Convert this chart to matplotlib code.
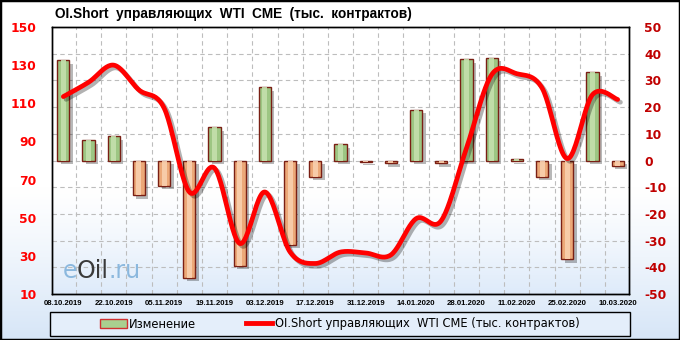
import numpy as np
import matplotlib
matplotlib.use('Agg')
import matplotlib.pyplot as plt
import matplotlib.patheffects as pe
import matplotlib.transforms as mtransforms
from matplotlib.patches import Rectangle, Patch
from matplotlib.lines import Line2D

plt.rcParams['axes.unicode_minus'] = False

# ---------------- data ----------------
dates = ['08.10.2019', '15.10.2019', '22.10.2019', '29.10.2019', '05.11.2019',
         '12.11.2019', '19.11.2019', '26.11.2019', '03.12.2019', '10.12.2019',
         '17.12.2019', '24.12.2019', '31.12.2019', '07.01.2020', '14.01.2020',
         '21.01.2020', '28.01.2020', '04.02.2020', '11.02.2020', '18.02.2020',
         '25.02.2020', '03.03.2020', '10.03.2020']
changes = [37.5, 7.5, 9, -13, -9.5, -44, 12.5, -39.5, 27.5, -31.5, -6, 6,
           -0.5, -1, 19, -1, 38, 38.5, 0.5, -6, -37, 33, -2]
oi_short = [113.5, 121, 130, 117, 107.5, 63.5, 76, 36.5, 63.5, 32, 26, 32,
            31.5, 30.5, 49.5, 48.5, 86.5, 125, 125.5, 118, 81, 114.5, 112]
left_ticks = [10, 30, 50, 70, 90, 110, 130, 150]
right_ticks = list(range(-50, 51, 10))
title = 'OI.Short  управляющих  WTI  CME  (тыс.  контрактов)'
label_bars = 'Изменение'
label_line = 'OI.Short управляющих  WTI CME (тыс. контрактов)'

# ---------------- helpers ----------------
def catmull_rom(x, y, n=24):
    pts = np.column_stack([x, y]).astype(float)
    P = np.vstack([pts[0], pts, pts[-1]])
    out = []
    t = np.linspace(0, 1, n, endpoint=False)[:, None]
    for i in range(len(pts) - 1):
        p0, p1, p2, p3 = P[i], P[i + 1], P[i + 2], P[i + 3]
        seg = 0.5 * ((2 * p1) + (-p0 + p2) * t
                     + (2 * p0 - 5 * p1 + 4 * p2 - p3) * t ** 2
                     + (-p0 + 3 * p1 - 3 * p2 + p3) * t ** 3)
        out.append(seg)
    out.append(pts[-1][None])
    s = np.vstack(out)
    return s[:, 0], s[:, 1]

# ---------------- figure ----------------
fig = plt.figure(figsize=(6.8, 3.4), dpi=100)

# figure background gradient
bg = fig.add_axes([0, 0, 1, 1], zorder=-5)
g = np.linspace(0, 1, 256)
g = np.clip((g - 0.55) / 0.45, 0, 1) ** 1.2
top_c = np.array([1.0, 1.0, 1.0])
bot_c = np.array([0.84, 0.90, 0.97])
img = top_c[None, :] * (1 - g[:, None]) + bot_c[None, :] * g[:, None]
bg.imshow(img[:, None, :], aspect='auto', extent=(0, 1, 0, 1), origin='upper')
bg.set_axis_off()

ax = fig.add_axes([52 / 680, 46 / 340, 577 / 680, 267 / 340])
x = np.arange(len(dates))
xl = (-0.45, len(dates) - 0.55)
ax.set_xlim(*xl)
ax.set_ylim(-50, 50)

# plot-area gradient
g2 = np.linspace(0, 1, 256)
g2 = np.clip((g2 - 0.6) / 0.4, 0, 1) ** 1.3
bot2 = np.array([0.87, 0.92, 0.98])
img2 = top_c[None, :] * (1 - g2[:, None]) + bot2[None, :] * g2[:, None]
ax.imshow(img2[:, None, :], aspect='auto', extent=(xl[0], xl[1], -50, 50),
          origin='upper', zorder=0)

# grid
ax.set_yticks(right_ticks)
ax.set_xticks(np.arange(0.5, len(dates) - 1, 1), minor=True)
ax.grid(axis='y', which='major', color='#bdbdbd', linestyle=(0, (4, 3)), linewidth=0.8, zorder=1)
ax.grid(axis='x', which='minor', color='#bdbdbd', linestyle=(0, (4, 3)), linewidth=0.8, zorder=1)
ax.set_axisbelow(True)

# bars
vals = np.array(changes)
face = ['#9dc683' if v >= 0 else '#eca878' for v in vals]
inner = ['#c4e0ad' if v >= 0 else '#f9cfae' for v in vals]
shadow_tr = ax.transData + mtransforms.ScaledTranslation(2.5 / 72, -2.5 / 72, fig.dpi_scale_trans)
ax.bar(x, vals, width=0.48, color='#000000', alpha=0.28, transform=shadow_tr, zorder=2,
       linewidth=0)
ax.bar(x, vals, width=0.48, color=face, edgecolor='#7a1f14', linewidth=1.0, zorder=3)
ax.bar(x, vals, width=0.2, color=inner, linewidth=0, zorder=4, alpha=0.9)

ax.set_xticks(x[::2])
ax.set_xticklabels(dates[::2], fontsize=5.6, fontweight='bold', family='Liberation Sans')
ax.tick_params(axis='x', which='both', length=0, pad=4)

# line axis (left)
ax2 = ax.twinx()
ax2.set_ylim(10, 150)
ax2.yaxis.set_ticks_position('left')
ax2.set_yticks(left_ticks)
ax2.tick_params(axis='y', length=0, pad=11, labelsize=8.8, labelcolor='#ff0000')
for lab in ax2.get_yticklabels():
    lab.set_fontweight('bold')

# bars axis ticks -> right (after twinx)
ax.yaxis.set_ticks_position('right')
ax.tick_params(axis='y', which='both', length=0, pad=11, labelsize=8.8, labelcolor='#c00000',
               left=False, labelleft=False, right=True, labelright=True)
for lab in ax.get_yticklabels():
    lab.set_fontweight('bold')

sx, sy = catmull_rom(x, oi_short)
ax2.plot(sx, sy, color='#ff0000', linewidth=3.4, solid_capstyle='round', zorder=5,
         path_effects=[pe.SimpleLineShadow(offset=(2, -2), shadow_color='black', alpha=0.3),
                       pe.Normal()])

for a in (ax, ax2):
    for s in a.spines.values():
        s.set_color('black')
        s.set_linewidth(1.0)

# watermark (chained pieces)
t1 = ax.text(0.018, 0.085, 'e', transform=ax.transAxes, fontsize=17, color='#8bb8de',
             va='center', ha='left', zorder=2)
t2 = ax.annotate('Oil', xy=(1, 0.5), xycoords=t1, va='center', ha='left',
                 fontsize=17, color='#3a3a3a', zorder=2)
t3 = ax.annotate('.ru', xy=(1, 0.5), xycoords=t2, va='center', ha='left',
                 fontsize=17, color='#8bb8de', zorder=2)

# title
fig.text(55 / 680, 1 - 14 / 340, title, fontsize=9.8, fontweight='bold',
         family='Liberation Sans', ha='left', va='center')

# legend box
fig.add_artist(Rectangle((50 / 680, 4 / 340), 580 / 680, 24 / 340, transform=fig.transFigure,
                         facecolor='#e4eefa', edgecolor='black', linewidth=1.0, zorder=1))
handles = [Patch(facecolor='#a9cf8f', edgecolor='#d03030', linewidth=1.0),
           Line2D([0], [0], color='#ff0000', linewidth=3.5)]
leg = fig.legend(handles, [label_bars, label_line], loc='center',
                 bbox_to_anchor=(340 / 680, 16 / 340), ncol=2, frameon=False,
                 fontsize=8.3, handlelength=2.3, handleheight=0.7, handletextpad=0.2,
                 columnspacing=4.3)
leg.set_zorder(2)

# outer border
fig.add_artist(Rectangle((0, 0), 1, 1, transform=fig.transFigure, fill=False,
                         edgecolor='black', linewidth=2.5, zorder=10))

fig.savefig('out.png', dpi=100)
